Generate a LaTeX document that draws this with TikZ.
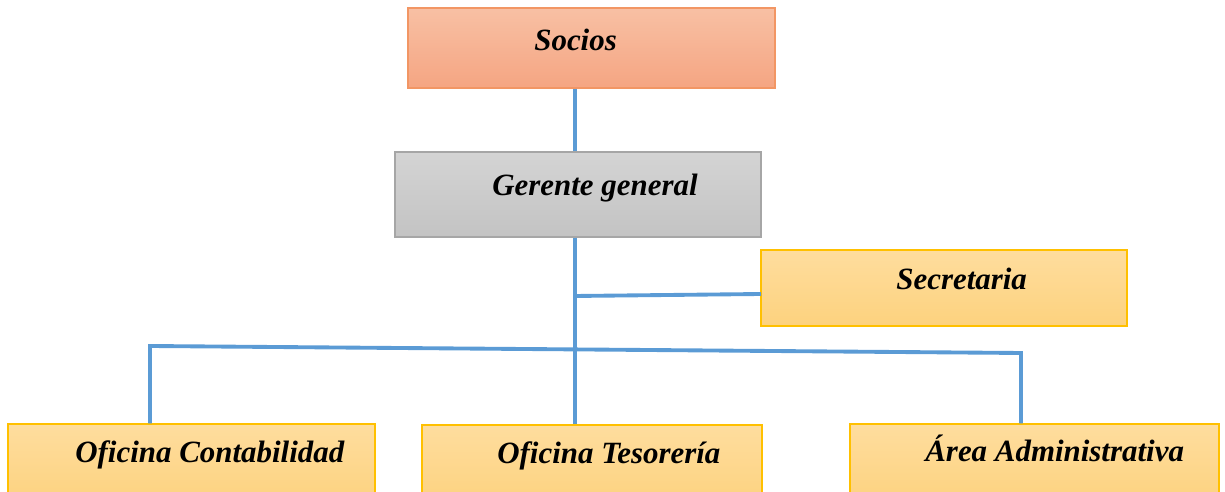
\documentclass[tikz,border=0pt]{standalone}
\usepackage{fontspec}
\setmainfont{Liberation Serif}
\usetikzlibrary{positioning}
\definecolor{sociosarriba}{RGB}{248, 192, 164}
\definecolor{sociosabajo}{RGB}{245, 165, 130}
\definecolor{sociosborde}{RGB}{242, 150, 100}
\definecolor{grisarriba}{RGB}{212, 212, 212}
\definecolor{grisabajo}{RGB}{195, 195, 195}
\definecolor{grisborde}{RGB}{166, 166, 166}
\definecolor{oroarriba}{RGB}{254, 221, 158}
\definecolor{oroabajo}{RGB}{253, 210, 126}
\definecolor{oroborde}{RGB}{255, 192, 0}
\definecolor{enlaceazul}{RGB}{91, 155, 213}

\tikzset{
  caja/.style={rectangle, inner sep=0pt, line width=0.8pt},
  cajasocios/.style={caja, draw=sociosborde, top color=sociosarriba, bottom color=sociosabajo},
  cajagris/.style={caja, draw=grisborde, top color=grisarriba, bottom color=grisabajo},
  cajaoro/.style={caja, draw=oroborde, top color=oroarriba, bottom color=oroabajo},
  rotulo/.style={anchor=base west, inner sep=0pt, font=\fontsize{17.6}{20}\selectfont\bfseries\itshape},
  enlace/.style={draw=enlaceazul, line width=2.2pt}
}

\begin{document}
\begin{tikzpicture}[x=0.02cm, y=-0.02cm]
    \useasboundingbox (0,0) rectangle (1225,492);

    % cajas
    \node[cajasocios, minimum width=7.34cm, minimum height=1.6cm] (socios) at (591.5,48) {};
    \node[cajagris, minimum width=7.32cm, minimum height=1.7cm] (gerente) at (578,194.5) {};
    \node[cajaoro, minimum width=7.32cm, minimum height=1.52cm] (secretaria) at (944,288) {};
    \node[cajaoro, minimum width=7.34cm, minimum height=1.64cm] (contabilidad) at (191.5,465) {};
    \node[cajaoro, minimum width=6.8cm, minimum height=1.64cm] (tesoreria) at (592,466) {};
    \node[cajaoro, minimum width=7.38cm, minimum height=1.64cm] (administrativa) at (1034.5,465) {};

    % textos
    \node[rotulo] (t-socios) at (534,51) {Socios};
    \node[rotulo] (t-gerente) at (492,196) {Gerente general};
    \node[rotulo] (t-secretaria) at (896,290) {Secretaria};
    \node[rotulo] (t-contabilidad) at (75,463) {Oficina Contabilidad};
    \node[rotulo] (t-tesoreria) at (497,464) {Oficina Tesorería};
    \node[rotulo] (t-administrativa) at (925,462) {Área Administrativa};

    % conectores
    \coordinate (tronco) at (575,0);
    \coordinate (ramasec) at (575,296);
    \coordinate (entradasec) at (761,294);
    \coordinate (barraizq) at (150,346);
    \coordinate (barrader) at (1021,353);

    \draw[enlace] (socios.south -| tronco) -- (gerente.north -| tronco);
    \draw[enlace] (gerente.south -| tronco) -- (tesoreria.north -| tronco);
    \draw[enlace] (ramasec) -- (entradasec);
    \draw[enlace] (contabilidad.north -| barraizq) -- (barraizq) -- (barrader)
        -- (administrativa.north -| barrader);

\end{tikzpicture}
\end{document}
